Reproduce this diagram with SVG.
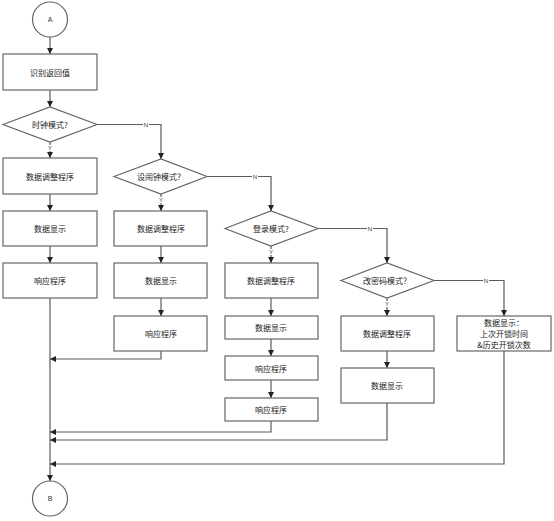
<svg xmlns="http://www.w3.org/2000/svg" width="554" height="521" viewBox="0 0 554 521">
<defs>
<marker id="ah" markerWidth="6" markerHeight="6" refX="6" refY="3" orient="auto" markerUnits="userSpaceOnUse">
<path d="M0,0 L6,3 L0,6 Z" fill="#222"/>
</marker>
<style>
.n{fill:#fff;stroke:#666;stroke-width:1.2}
.t{font-family:"Noto Sans CJK SC","Noto Sans",sans-serif;font-size:8px;fill:#222;text-anchor:middle;dominant-baseline:central}
.l{font-family:"Liberation Sans",sans-serif;font-size:6px;fill:#333;text-anchor:middle;dominant-baseline:central}
.c{fill:none;stroke:#5a5a5a;stroke-width:1.2;marker-end:url(#ah)}
.lb{fill:#fff}
</style>
</defs>
<rect width="554" height="521" fill="#fff"/>
<g id="connectors">
<path class="c" d="M50,37 V54"/>
<path class="c" d="M50,90 V107"/>
<path class="c" d="M50,142 V158"/>
<path class="c" d="M97,124.5 H161 V159"/>
<path class="c" d="M50,194 V211"/>
<path class="c" d="M50,246 V263"/>
<path class="c" d="M50,298 V481"/>
<path class="c" d="M161,194 V211"/>
<path class="c" d="M207,176.5 H271 V211"/>
<path class="c" d="M161,246 V263"/>
<path class="c" d="M161,298 V316"/>
<path class="c" d="M161,351 V359 H50"/>
<path class="c" d="M271,246 V263"/>
<path class="c" d="M318,228.5 H387 V263"/>
<path class="c" d="M271,298 V316"/>
<path class="c" d="M271,339 V356"/>
<path class="c" d="M271,380 V398"/>
<path class="c" d="M271,421 V432 H50"/>
<path class="c" d="M387,298 V316"/>
<path class="c" d="M434,280.5 H504 V316"/>
<path class="c" d="M387,351 V368"/>
<path class="c" d="M387,403 V440 H50"/>
<path class="c" d="M504,351 V464 H50"/>
<rect class="lb" x="143" y="121.5" width="6" height="6"/><text class="l" x="146" y="124.5">N</text>
<rect class="lb" x="252" y="173.5" width="6" height="6"/><text class="l" x="255" y="176.5">N</text>
<rect class="lb" x="367" y="225.5" width="6" height="6"/><text class="l" x="370" y="228.5">N</text>
<rect class="lb" x="483" y="277.5" width="6" height="6"/><text class="l" x="486" y="280.5">N</text>
<rect class="lb" x="47" y="145" width="6" height="6"/><text class="l" x="50" y="148">Y</text>
<rect class="lb" x="158" y="197" width="6" height="6"/><text class="l" x="161" y="200">Y</text>
<rect class="lb" x="268" y="249" width="6" height="6"/><text class="l" x="271" y="252">Y</text>
<rect class="lb" x="384" y="301" width="6" height="6"/><text class="l" x="387" y="304">Y</text>
</g>
<g id="startA"><circle class="n" cx="50" cy="19.5" r="17.5"/><text class="l" x="50" y="19.5" style="font-size:7px">A</text></g>
<g id="n1"><rect class="n" x="3" y="54" width="94" height="36"/><text class="t" x="50" y="72">识别返回值</text></g>
<g id="d1"><polygon class="n" points="3,124.5 50,107 97,124.5 50,142"/><text class="t" x="50" y="124.5">时钟模式?</text></g>
<g id="n2"><rect class="n" x="3" y="158" width="94" height="36"/><text class="t" x="50" y="176">数据调整程序</text></g>
<g id="n3"><rect class="n" x="3" y="211" width="94" height="35"/><text class="t" x="50" y="228.5">数据显示</text></g>
<g id="n4"><rect class="n" x="3" y="263" width="94" height="35"/><text class="t" x="50" y="280.5">响应程序</text></g>
<g id="d2"><polygon class="n" points="114,176.5 161,159 207,176.5 161,194"/><text class="t" x="161" y="176.5">设闹钟模式？</text></g>
<g id="n5"><rect class="n" x="114" y="211" width="93" height="35"/><text class="t" x="161" y="228.5">数据调整程序</text></g>
<g id="n6"><rect class="n" x="114" y="263" width="93" height="35"/><text class="t" x="161" y="280.5">数据显示</text></g>
<g id="n7"><rect class="n" x="114" y="316" width="93" height="35"/><text class="t" x="161" y="333.5">响应程序</text></g>
<g id="d3"><polygon class="n" points="225,228.5 271,211 318,228.5 271,246"/><text class="t" x="271" y="228.5">登录模式?</text></g>
<g id="n8"><rect class="n" x="225" y="263" width="93" height="35"/><text class="t" x="271" y="280.5">数据调整程序</text></g>
<g id="n9"><rect class="n" x="225" y="316" width="93" height="23"/><text class="t" x="271" y="327.5">数据显示</text></g>
<g id="n10"><rect class="n" x="225" y="356" width="93" height="24"/><text class="t" x="271" y="368">响应程序</text></g>
<g id="n11"><rect class="n" x="225" y="398" width="93" height="23"/><text class="t" x="271" y="409.5">响应程序</text></g>
<g id="d4"><polygon class="n" points="341,280.5 387,263 434,280.5 387,298"/><text class="t" x="387" y="280.5">改密码模式？</text></g>
<g id="n12"><rect class="n" x="341" y="316" width="93" height="35"/><text class="t" x="387" y="333.5">数据调整程序</text></g>
<g id="n13"><rect class="n" x="341" y="368" width="93" height="35"/><text class="t" x="387" y="385.5">数据显示</text></g>
<g id="n14"><rect class="n" x="457" y="316" width="94" height="35"/><text class="t" x="504" y="322.5">数据显示：</text><text class="t" x="504" y="333.5">上次开锁时间</text><text class="t" x="504" y="344.5">&amp;历史开锁次数</text></g>
<g id="endB"><circle class="n" cx="50" cy="498.5" r="17.5"/><text class="l" x="50" y="498.5" style="font-size:7px">B</text></g>
</svg>
